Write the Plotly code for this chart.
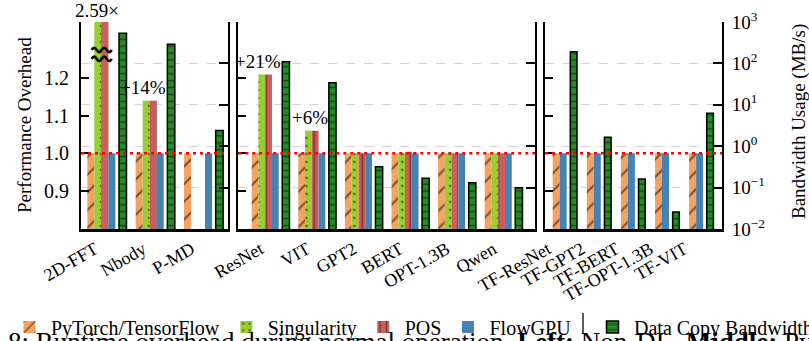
import plotly.graph_objects as go

FONT = "Liberation Serif, Times New Roman, serif"

# ---------------- data ----------------
# Left: non-DL workloads
NONDL_APPS = ["2D-FFT", "Nbody", "P-MD"]
NONDL_TORCH = [1.0, 1.0, 1.0]
NONDL_SINGULARITY = [2.59, 1.14, None]
NONDL_POS = [2.59, 1.14, None]
NONDL_FLOWGPU = [1.0, 1.0, 1.0]
NONDL_BANDWIDTH = [533.0, 289.0, 2.38]          # MB/s

# Middle: PyTorch models
PT_MODELS = ["ResNet", "VIT", "GPT2", "BERT", "OPT-1.3B", "Qwen"]
PT_TORCH = [1.0, 1.0, 1.0, 1.0, 1.0, 1.0]
PT_SINGULARITY = [1.21, 1.06, 1.0, 1.0, 1.0, 1.0]
PT_POS = [1.21, 1.06, 1.0, 1.004, 1.0, 1.0]
PT_FLOWGPU = [1.0, 1.0, 1.0, 1.0, 1.0, 1.0]
PT_BANDWIDTH = [110.0, 34.2, 0.32, 0.168, 0.131, 0.0995]

# Right: TensorFlow models
TF_MODELS = ["TF-ResNet", "TF-GPT2", "TF-BERT", "TF-OPT-1.3B", "TF-VIT"]
TF_TENSORFLOW = [1.0, 1.0, 1.0, 1.0, 1.0]
TF_FLOWGPU = [1.0, 1.0, 1.0, 1.0, 1.0]
TF_BANDWIDTH = [192.0, 1.64, 0.161, 0.0258, 6.24]

OVERHEAD_TICKS = [0.9, 1.0, 1.1, 1.2]
BANDWIDTH_EXPONENTS = [-2, -1, 0, 1, 2, 3]

# ---------------- styling ----------------
W, H = 809, 341
PLOT_TOP, PLOT_BOTTOM = 22, 229
OVERHEAD_RANGE = [0.798, 1.3504]
BASELINE = 1.0


def pattern(shape, size, solidity):
    return dict(shape=shape, fgcolor="black", size=size, solidity=solidity, fillmode="overlay")


STYLE = {
    "PyTorch/TensorFlow": dict(color="#F4A460", pattern=pattern("/", 12.5, 0.17)),
    "Singularity": dict(color="#9ACD32", pattern=pattern(".", 8, 0.09)),
    "POS": dict(color="#CD5C5C", pattern=pattern("|", 8, 0.17)),
    "FlowGPU": dict(color="#4682B4", pattern=dict(shape="")),
}
BW_NAME = "Data Copy Bandwidth"
BW_STYLE = dict(color="#228B22", line=dict(color="black", width=1.5),
                pattern=pattern("-", 6.9, 0.2))

# bar slots inside one group (group units)
FOUR_W = 0.145
FOUR_OFFSETS = {"PyTorch/TensorFlow": -0.405, "Singularity": -0.26, "POS": -0.115, "FlowGPU": 0.03}
FOUR_BW = (0.25, 0.155)
TWO_W = 0.205
TWO_OFFSETS = {"PyTorch/TensorFlow": -0.356, "FlowGPU": -0.151}
TWO_BW = (0.16, 0.196)

panels = [
    dict(names=NONDL_APPS, px=(81, 228.3), xr=[-0.536, 2.511], label_shift=-0.25,
         series={"PyTorch/TensorFlow": NONDL_TORCH, "Singularity": NONDL_SINGULARITY,
                 "POS": NONDL_POS, "FlowGPU": NONDL_FLOWGPU},
         bw=NONDL_BANDWIDTH, offsets=FOUR_OFFSETS, w=FOUR_W, bwslot=FOUR_BW),
    dict(names=PT_MODELS, px=(238.3, 535), xr=[-0.693, 5.674], label_shift=-0.22,
         series={"PyTorch/TensorFlow": PT_TORCH, "Singularity": PT_SINGULARITY,
                 "POS": PT_POS, "FlowGPU": PT_FLOWGPU},
         bw=PT_BANDWIDTH, offsets=FOUR_OFFSETS, w=FOUR_W, bwslot=FOUR_BW),
    dict(names=TF_MODELS, px=(545, 722), xr=[-0.582, 4.608], label_shift=-0.5,
         series={"PyTorch/TensorFlow": TF_TENSORFLOW, "FlowGPU": TF_FLOWGPU},
         bw=TF_BANDWIDTH, offsets=TWO_OFFSETS, w=TWO_W, bwslot=TWO_BW),
]

fig = go.Figure()
ydom = [(H - PLOT_BOTTOM) / H, (H - PLOT_TOP) / H]
layout = {}
shown = set()
annotations = []
shapes = []

for p, pan in enumerate(panels):
    xn = "x" if p == 0 else f"x{p + 1}"
    ylin_n = "y" if p == 0 else f"y{2 * p + 1}"
    ylog_n = f"y{2 * p + 2}"
    xkey = "xaxis" if p == 0 else f"xaxis{p + 1}"
    ylin_key = "yaxis" if p == 0 else f"yaxis{2 * p + 1}"
    ylog_key = f"yaxis{2 * p + 2}"
    n = len(pan["names"])
    idx = list(range(n))

    for name, vals in pan["series"].items():
        st = STYLE[name]
        fig.add_trace(go.Bar(
            x=idx, y=vals, xaxis=xn, yaxis=ylin_n, name=name, legendgroup=name,
            showlegend=name not in shown, legend="legend",
            width=[pan["w"]] * n, offset=pan["offsets"][name],
            marker=dict(color=st["color"], line=dict(width=0), pattern=st["pattern"]),
            hoverinfo="skip"))
        shown.add(name)

    fig.add_trace(go.Bar(
        x=idx, y=pan["bw"], xaxis=xn, yaxis=ylog_n, name=BW_NAME, legendgroup=BW_NAME,
        showlegend=BW_NAME not in shown, legend="legend2",
        width=[pan["bwslot"][1]] * n, offset=pan["bwslot"][0],
        marker=BW_STYLE, hoverinfo="skip"))
    shown.add(BW_NAME)

    layout[xkey] = dict(
        domain=[pan["px"][0] / W, pan["px"][1] / W], range=pan["xr"], anchor=ylin_n,
        automargin=False,
        tickvals=[i + pan["label_shift"] for i in idx], ticktext=pan["names"],
        tickangle=-30, ticks="", showgrid=False, zeroline=False,
        showline=True, linecolor="black", linewidth=2.5,
        tickfont=dict(family=FONT, size=18, color="black"))
    layout[ylin_key] = dict(
        domain=ydom, range=OVERHEAD_RANGE, anchor=xn, automargin=False,
        tickvals=OVERHEAD_TICKS, ticktext=[f"{v:.1f}" for v in OVERHEAD_TICKS],
        showticklabels=(p == 0), ticks="inside", ticklen=8, tickwidth=1.5, tickcolor="black",
        ticklabelstandoff=6,
        showgrid=False, zeroline=False, showline=True, linecolor="black", linewidth=2,
        tickfont=dict(family=FONT, size=20, color="black"))
    layout[ylog_key] = dict(
        type="log", range=[BANDWIDTH_EXPONENTS[0], BANDWIDTH_EXPONENTS[-1]],
        overlaying=ylin_n, anchor=xn, side="right", automargin=False,
        tickvals=[10.0 ** e for e in BANDWIDTH_EXPONENTS],
        ticktext=[f"10<sup>{'−' if e < 0 else ''}{abs(e)}</sup>" for e in BANDWIDTH_EXPONENTS],
        showticklabels=(p == 2), ticks="inside", ticklen=9, tickwidth=1.5, tickcolor="black",
        ticklabelstandoff=4,
        showgrid=True, gridcolor="#d4d4d4", griddash="dash", gridwidth=1.3,
        zeroline=False, showline=True, linecolor="black", linewidth=2,
        tickfont=dict(family=FONT, size=19, color="black"))

    # baseline (no overhead) reference
    shapes.append(dict(type="line", xref=f"{xn} domain", x0=0, x1=1, yref=ylin_n,
                       y0=BASELINE, y1=BASELINE, layer="above",
                       line=dict(color="red", width=2.6, dash="3px,4px")))

    # percentage labels on moderate overheads
    if "Singularity" in pan["series"]:
        sing = pan["series"]["Singularity"]
        for i, v in enumerate(sing):
            if v is not None and 1.02 < v < OVERHEAD_RANGE[1]:
                annotations.append(dict(
                    x=i + pan["offsets"]["POS"], y=v, xref=xn, yref=ylin_n,
                    text=f"+{round((v - 1) * 100)}%", showarrow=False,
                    xanchor="right", yanchor="bottom", xshift=18, yshift=1,
                    font=dict(family=FONT, size=19, color="black")))
            elif v is not None and v >= OVERHEAD_RANGE[1]:
                annotations.append(dict(
                    x=i + pan["offsets"]["POS"], y=1, xref=xn, yref=f"{ylin_n} domain",
                    text=f"{v:.2f}×", showarrow=False,
                    xanchor="center", yanchor="bottom", xshift=-4, yshift=-1,
                    font=dict(family=FONT, size=19, color="black")))
                # axis-break marks across the clipped bars
                x0 = i + pan["offsets"]["Singularity"] - 0.055
                x1 = i + pan["offsets"]["POS"] + pan["w"] + 0.07
                amp = 2.2 / 374.7
                for yb in (1.276, 1.252):
                    h = (x1 - x0) / 4
                    path = (f"M{x0},{yb} Q{x0 + h / 2},{yb + 2 * amp} {x0 + h},{yb} "
                            f"T{x0 + 2 * h},{yb} T{x0 + 3 * h},{yb} T{x1},{yb}")
                    shapes.append(dict(type="path", path=path, xref=xn, yref=ylin_n,
                                       layer="above", line=dict(color="black", width=2.6)))

# axis titles
annotations.append(dict(x=24 / W, y=(H - 125) / H, xref="paper", yref="paper",
                        text="Performance Overhead", textangle=-90, showarrow=False,
                        xanchor="center", yanchor="middle",
                        font=dict(family=FONT, size=19, color="black")))
annotations.append(dict(x=799 / W, y=(H - 122) / H, xref="paper", yref="paper",
                        text="Bandwidth Usage (MB/s)", textangle=-90, showarrow=False,
                        xanchor="center", yanchor="middle",
                        font=dict(family=FONT, size=19, color="black")))

# caption line below the figure
annotations.append(dict(x=6 / W, y=(H - 325) / H, xref="paper", yref="paper",
                        text="8: Runtime overhead during normal operation. <b>Left:</b> Non-DL. "
                             "<b>Middle:</b> PyTorch models. <b>Right:</b> TensorFlow models.",
                        showarrow=False, xanchor="left", yanchor="top",
                        font=dict(family=FONT, size=27, color="black")))

# separator between the two legend blocks
shapes.append(dict(type="line", xref="paper", yref="paper",
                   x0=583 / W, x1=583 / W, y0=(H - 313) / H, y1=(H - 334) / H,
                   line=dict(color="black", width=1.3)))

legend_common = dict(orientation="h", xanchor="left", yanchor="middle",
                     bgcolor="rgba(0,0,0,0)", borderwidth=0, itemwidth=33,
                     font=dict(family=FONT, size=20, color="black"), traceorder="normal")

fig.update_layout(
    template="none",
    width=W, height=H, margin=dict(l=0, r=0, t=0, b=0, autoexpand=False),
    paper_bgcolor="white", plot_bgcolor="white", barmode="overlay",
    font=dict(family=FONT, color="black"),
    legend=dict(x=8 / W, y=(H - 327) / H, **legend_common),
    legend2=dict(x=591 / W, y=(H - 327) / H, **legend_common),
    annotations=annotations, shapes=shapes,
    **layout)

fig.write_html("out.html")
